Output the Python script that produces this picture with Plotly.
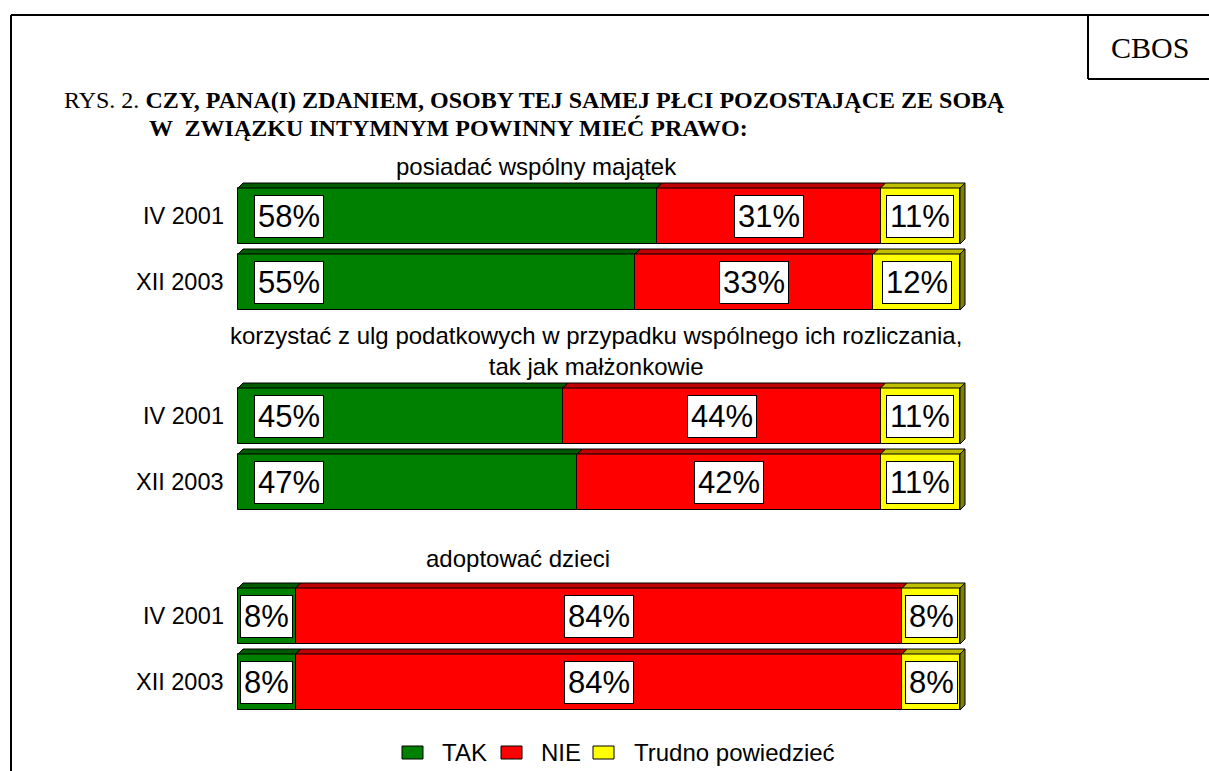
import plotly.graph_objects as go

# ---------------- data ----------------
questions = [
    "posiadać wspólny majątek",
    "korzystać z ulg podatkowych w przypadku wspólnego ich rozliczania,<br>tak jak małżonkowie",
    "adoptować dzieci",
]
waves = ["IV 2001", "XII 2003", "IV 2001", "XII 2003", "IV 2001", "XII 2003"]
tak = [58, 55, 45, 47, 8, 8]
nie = [31, 33, 44, 42, 84, 84]
trudno = [11, 12, 11, 11, 8, 8]
series_names = ["TAK", "NIE", "Trudno powiedzieć"]

# ---------------- layout constants ----------------
W, H = 1209, 771
X0 = 238            # pixel of 0%
PX = 7.22           # pixels per percent
ROW_Y = [216, 282, 416, 482, 616, 682]   # row centres (y axis in pixel units, top=0)
BAR_H = 56
DEPTH = 5
Q_POS = [(536, 166), (596, 351), (518, 558)]

front = ["#008000", "#FF0000", "#FFFF00"]
topc = ["#005A00", "#C00000", "#C0C000"]
sidec = ["#004000", "#800000", "#808000"]

fig = go.Figure()

series = [tak, nie, trudno]
bases = [[0] * len(tak), tak, [a + b for a, b in zip(tak, nie)]]
for vals, base, name, col in zip(series, bases, series_names, front):
    fig.add_trace(go.Bar(
        y=ROW_Y, x=vals, base=base, orientation="h", name=name,
        width=BAR_H, marker=dict(color=col, line=dict(color="black", width=1)),
        showlegend=False, hoverinfo="skip",
    ))

shapes = []
dx = DEPTH / PX
dy = DEPTH
for i, yc in enumerate(ROW_Y):
    yt = yc - BAR_H / 2
    yb = yc + BAR_H / 2
    for s in range(3):
        x0 = bases[s][i]
        x1 = x0 + series[s][i]
        shapes.append(dict(
            type="path", xref="x", yref="y",
            path=f"M{x0},{yt} L{x0+dx},{yt-dy} L{x1+dx},{yt-dy} L{x1},{yt} Z",
            fillcolor=topc[s], line=dict(color="black", width=1), layer="above"))
    xe = bases[2][i] + trudno[i]
    shapes.append(dict(
        type="path", xref="x", yref="y",
        path=f"M{xe},{yt} L{xe+dx},{yt-dy} L{xe+dx},{yb-dy} L{xe},{yb} Z",
        fillcolor=sidec[2], line=dict(color="black", width=1), layer="above"))

# frame and CBOS box
shapes += [
    dict(type="line", xref="paper", yref="paper", x0=11 / W, x1=1, y0=1 - 15 / H, y1=1 - 15 / H,
         line=dict(color="black", width=2)),
    dict(type="line", xref="paper", yref="paper", x0=11 / W, x1=11 / W, y0=0, y1=1 - 15 / H,
         line=dict(color="black", width=2)),
    dict(type="line", xref="paper", yref="paper", x0=1088 / W, x1=1088 / W, y0=1 - 15 / H, y1=1 - 79 / H,
         line=dict(color="black", width=2)),
    dict(type="line", xref="paper", yref="paper", x0=1088 / W, x1=1, y0=1 - 79 / H, y1=1 - 79 / H,
         line=dict(color="black", width=2)),
]

ann = []
SANS = "Liberation Sans, Arial, sans-serif"
SERIF = "Liberation Serif, Times New Roman, serif"

# value labels
for i, yc in enumerate(ROW_Y):
    xs = [min(tak[i] / 2, 7.0), tak[i] + nie[i] / 2, tak[i] + nie[i] + trudno[i] / 2]
    for s in range(3):
        ann.append(dict(
            x=xs[s], y=yc, xref="x", yref="y", text=f"{series[s][i]}%", showarrow=False,
            font=dict(family=SANS, size=31, color="black"),
            bgcolor="white", bordercolor="black", borderwidth=1, borderpad=3,
            xanchor="center", yanchor="middle"))
    ann.append(dict(
        x=(X0 - 12) / W, y=1 - yc / H, xref="paper", yref="paper", text=waves[i],
        showarrow=False, xanchor="right", yanchor="middle",
        font=dict(family=SANS, size=23.5, color="black")))

for q, (qx, qy) in zip(questions, Q_POS):
    ann.append(dict(x=qx / W, y=1 - qy / H, xref="paper", yref="paper", text=q,
                    showarrow=False, xanchor="center", yanchor="middle",
                    font=dict(family=SANS, size=24, color="black")))

# title
ann.append(dict(x=62 / W, y=1 - 100 / H, xref="paper", yref="paper",
                text="RYS. 2. <b>CZY, PANA(I) ZDANIEM, OSOBY TEJ SAMEJ PŁCI POZOSTAJĄCE ZE SOBĄ</b>",
                showarrow=False, xanchor="left", yanchor="middle",
                font=dict(family=SERIF, size=24, color="black")))
ann.append(dict(x=147 / W, y=1 - 128 / H, xref="paper", yref="paper",
                text="<b>W  ZWIĄZKU INTYMNYM POWINNY MIEĆ PRAWO:</b>",
                showarrow=False, xanchor="left", yanchor="middle",
                font=dict(family=SERIF, size=24, color="black")))
ann.append(dict(x=1150 / W, y=1 - 47 / H, xref="paper", yref="paper", text="CBOS",
                showarrow=False, xanchor="center", yanchor="middle",
                font=dict(family=SERIF, size=30, color="black")))

# legend
LEG = [(402, 440), (501, 539), (593, 632)]
for (sx, tx), name, col in zip(LEG, series_names, front):
    shapes.append(dict(type="rect", xref="paper", yref="paper",
                       x0=sx / W, x1=(sx + 21) / W, y0=1 - 759 / H, y1=1 - 746 / H,
                       fillcolor=col, line=dict(color="black", width=1)))
    ann.append(dict(x=tx / W, y=1 - 752 / H, xref="paper", yref="paper", text=name,
                    showarrow=False, xanchor="left", yanchor="middle",
                    font=dict(family=SANS, size=24, color="black")))

fig.update_layout(
    width=W, height=H, margin=dict(l=0, r=0, t=0, b=0),
    paper_bgcolor="white", plot_bgcolor="white",
    barmode="overlay", bargap=0,
    xaxis=dict(range=[-X0 / PX, (W - X0) / PX], domain=[0, 1], visible=False, fixedrange=True),
    yaxis=dict(range=[H, 0], domain=[0, 1], visible=False, fixedrange=True),
    shapes=shapes, annotations=ann, showlegend=False,
)

fig.write_html("out.html", config={"displayModeBar": False},
               post_script="document.body.style.margin='0px';document.body.style.overflow='hidden';")
